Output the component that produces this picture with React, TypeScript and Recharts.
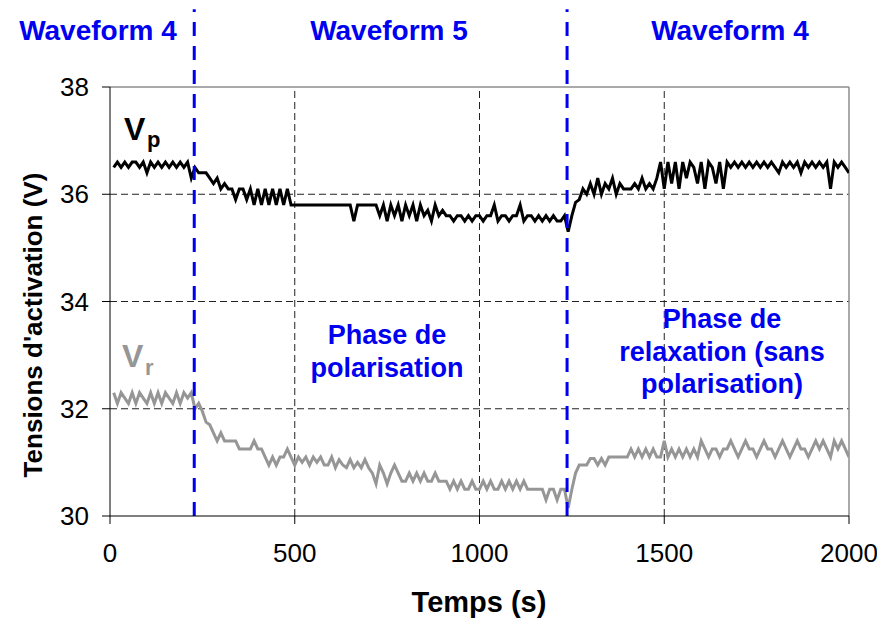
import React from "react";
import { LineChart, Line, XAxis, YAxis, ReferenceLine } from "recharts";

// Sampling step of the acquisition (s); first sample at 10 s
const SAMPLE_STEP_S = 10;

// Vp (V), one value every 10 s from 10 s to 2000 s
const vpValues = [
  36.5, 36.6, 36.5, 36.6, 36.5, 36.6, 36.6, 36.5, 36.6, 36.4,
  36.6, 36.5, 36.6, 36.5, 36.6, 36.5, 36.6, 36.5, 36.6, 36.5,
  36.6, 36.3, 36.5, 36.4, 36.4, 36.4, 36.3, 36.2, 36.3, 36.1,
  36.2, 36.1, 36.1, 35.9, 36.1, 36.1, 35.9, 36.1, 35.8, 36.1,
  35.8, 36.1, 35.8, 36.1, 35.8, 36.1, 35.8, 36.1, 35.8, 35.8,
  35.8, 35.8, 35.8, 35.8, 35.8, 35.8, 35.8, 35.8, 35.8, 35.8,
  35.8, 35.8, 35.8, 35.8, 35.8, 35.5, 35.8, 35.8, 35.8, 35.8,
  35.8, 35.8, 35.6, 35.8, 35.5, 35.8, 35.6, 35.8, 35.5, 35.8,
  35.6, 35.8, 35.5, 35.8, 35.6, 35.7, 35.5, 35.8, 35.6, 35.7,
  35.6, 35.6, 35.5, 35.6, 35.6, 35.5, 35.6, 35.5, 35.6, 35.6,
  35.5, 35.6, 35.6, 35.8, 35.5, 35.6, 35.6, 35.5, 35.6, 35.6,
  35.8, 35.5, 35.6, 35.6, 35.5, 35.6, 35.5, 35.6, 35.5, 35.6,
  35.5, 35.5, 35.6, 35.3, 35.6, 35.85, 35.9, 36.1, 36.0, 36.2,
  36.0, 36.3, 36.0, 36.2, 36.1, 36.3, 36.0, 36.2, 36.1, 36.1,
  36.1, 36.2, 36.1, 36.3, 36.1, 36.2, 36.1, 36.3, 36.6, 36.1,
  36.6, 36.2, 36.6, 36.1, 36.6, 36.3, 36.6, 36.5, 36.2, 36.6,
  36.1, 36.6, 36.5, 36.2, 36.6, 36.1, 36.6, 36.5, 36.6, 36.5,
  36.6, 36.5, 36.6, 36.5, 36.6, 36.5, 36.6, 36.5, 36.6, 36.5,
  36.4, 36.6, 36.5, 36.6, 36.5, 36.6, 36.4, 36.6, 36.5, 36.6,
  36.5, 36.6, 36.5, 36.6, 36.1, 36.6, 36.5, 36.6, 36.5, 36.4,
];

// Vr (V), same sampling
const vrValues = [
  32.3, 32.1, 32.3, 32.2, 32.1, 32.3, 32.1, 32.3, 32.2, 32.1,
  32.3, 32.1, 32.3, 32.1, 32.3, 32.2, 32.1, 32.3, 32.1, 32.3,
  32.2, 32.3, 32.0, 32.1, 31.95, 31.75, 31.7, 31.55, 31.4, 31.55,
  31.4, 31.4, 31.4, 31.4, 31.25, 31.25, 31.25, 31.25, 31.4, 31.25,
  31.25, 31.1, 30.95, 31.1, 30.95, 31.1, 31.1, 31.25, 31.1, 30.95,
  31.1, 31.0, 31.1, 30.95, 31.1, 31.0, 31.1, 30.95, 30.95, 31.1,
  30.9, 31.05, 30.95, 30.9, 31.05, 30.9, 31.0, 30.9, 31.05, 30.9,
  30.8, 30.6, 30.95, 30.8, 30.6, 30.8, 30.95, 30.8, 30.65, 30.65,
  30.8, 30.65, 30.8, 30.65, 30.8, 30.65, 30.65, 30.8, 30.65, 30.65,
  30.65, 30.5, 30.65, 30.5, 30.65, 30.5, 30.5, 30.65, 30.5, 30.5,
  30.65, 30.5, 30.65, 30.5, 30.5, 30.65, 30.5, 30.65, 30.5, 30.65,
  30.5, 30.65, 30.5, 30.5, 30.5, 30.5, 30.5, 30.3, 30.5, 30.5,
  30.3, 30.5, 30.5, 30.15, 30.5, 30.8, 30.95, 30.95, 30.95, 31.07,
  31.07, 30.95, 31.07, 30.95, 31.1, 31.1, 31.1, 31.1, 31.1, 31.1,
  31.25, 31.1, 31.25, 31.1, 31.25, 31.1, 31.25, 31.1, 31.1, 31.4,
  31.1, 31.25, 31.1, 31.25, 31.1, 31.25, 31.1, 31.25, 31.1, 31.4,
  31.25, 31.1, 31.25, 31.25, 31.1, 31.25, 31.25, 31.4, 31.25, 31.1,
  31.25, 31.4, 31.25, 31.25, 31.1, 31.25, 31.4, 31.25, 31.25, 31.1,
  31.25, 31.4, 31.25, 31.1, 31.25, 31.4, 31.25, 31.25, 31.1, 31.25,
  31.4, 31.25, 31.4, 31.25, 31.1, 31.4, 31.25, 31.4, 31.25, 31.1,
];

const xTicks = [0, 500, 1000, 1500, 2000];
const yTicks = [30, 32, 34, 36, 38];
const gridXValues = [500, 1000, 1500];
const gridYValues = [32, 34, 36];
const waveformSwitchTimes = [228, 1237];

const n = Math.min(vpValues.length, vrValues.length);
const data = Array.from({ length: n }, (_, i) => ({
  t: (i + 1) * SAMPLE_STEP_S,
  vp: vpValues[i],
  vr: vrValues[i],
}));

const FONT = "'Liberation Sans', Arial, Helvetica, sans-serif";
const BLUE = "#0000f0";
const GRAY = "#969696";

export default function App() {
  return (
    <div style={{ position: "relative", width: 877, height: 613, fontFamily: FONT }}>
      <LineChart
        width={877}
        height={605}
        data={data}
        margin={{ top: 79, right: 36, bottom: 57, left: 42 }}
      >
        <XAxis
          type="number"
          dataKey="t"
          domain={[0, 2000]}
          ticks={xTicks}
          interval={0}
          allowDataOverflow
          stroke="#000"
          tickSize={8}
          tickMargin={20}
          height={40}
          tick={{ fill: "#000", fontSize: 26, fontFamily: FONT }}
        />
        <YAxis
          type="number"
          domain={[30, 38]}
          ticks={yTicks}
          interval={0}
          allowDataOverflow
          stroke="#000"
          width={60}
          tickSize={8}
          tickMargin={13}
          tick={{ fill: "#000", fontSize: 26, fontFamily: FONT }}
        />
        {gridYValues.map((v) => (
          <ReferenceLine key={"gy" + v} y={v} stroke="#222" strokeWidth={1} strokeDasharray="7 4" />
        ))}
        {gridXValues.map((v) => (
          <ReferenceLine key={"gx" + v} x={v} stroke="#222" strokeWidth={1} strokeDasharray="7 4" />
        ))}
        <ReferenceLine y={38} stroke="#8c8c8c" strokeWidth={1.5} />
        <ReferenceLine x={2000} stroke="#8c8c8c" strokeWidth={1.5} />
        <Line
          type="linear"
          dataKey="vr"
          stroke={GRAY}
          strokeWidth={3}
          dot={false}
          activeDot={false}
          isAnimationActive={false}
        />
        <Line
          type="linear"
          dataKey="vp"
          stroke="#000"
          strokeWidth={3}
          dot={false}
          activeDot={false}
          isAnimationActive={false}
        />
        {waveformSwitchTimes.map((t) => (
          <ReferenceLine
            key={"wf" + t}
            segment={[
              { x: t, y: 30 },
              { x: t, y: 39.45 },
            ]}
            ifOverflow="visible"
            stroke={BLUE}
            strokeWidth={3}
            strokeDasharray="14 10"
          />
        ))}
      </LineChart>
      <svg
        width={877}
        height={613}
        style={{ position: "absolute", left: 0, top: 0, pointerEvents: "none" }}
      >
        <g fontFamily={FONT} fontWeight="bold" fill={BLUE} fontSize={28} textAnchor="middle">
          <text x={90} y={32}>Waveform 4</text>
          <text x={381} y={32}>Waveform 5</text>
          <text x={722} y={32}>Waveform 4</text>
        </g>
        <g fontFamily={FONT} fontWeight="bold" fill={BLUE} fontSize={27} textAnchor="middle">
          <text x={379} y={336}>Phase de</text>
          <text x={379} y={369}>polarisation</text>
          <text x={714} y={320}>Phase de</text>
          <text x={714} y={353}>relaxation (sans</text>
          <text x={714} y={385}>polarisation)</text>
        </g>
        <g fontFamily={FONT} fontWeight="bold" fill="#000">
          <text x={116} y={132} fontSize={32}>V</text>
          <text x={139} y={139} fontSize={22}>p</text>
        </g>
        <g fontFamily={FONT} fontWeight="bold" fill={GRAY}>
          <text x={114} y={359} fontSize={32}>V</text>
          <text x={137} y={367} fontSize={22}>r</text>
        </g>
        <text
          x={471}
          y={604}
          textAnchor="middle"
          fontFamily={FONT}
          fontWeight="bold"
          fontSize={29}
          fill="#000"
        >
          Temps (s)
        </text>
        <text
          transform="translate(34, 317) rotate(-90)"
          textAnchor="middle"
          fontFamily={FONT}
          fontWeight="bold"
          fontSize={26}
          fill="#000"
        >
          Tensions d'activation (V)
        </text>
      </svg>
    </div>
  );
}
